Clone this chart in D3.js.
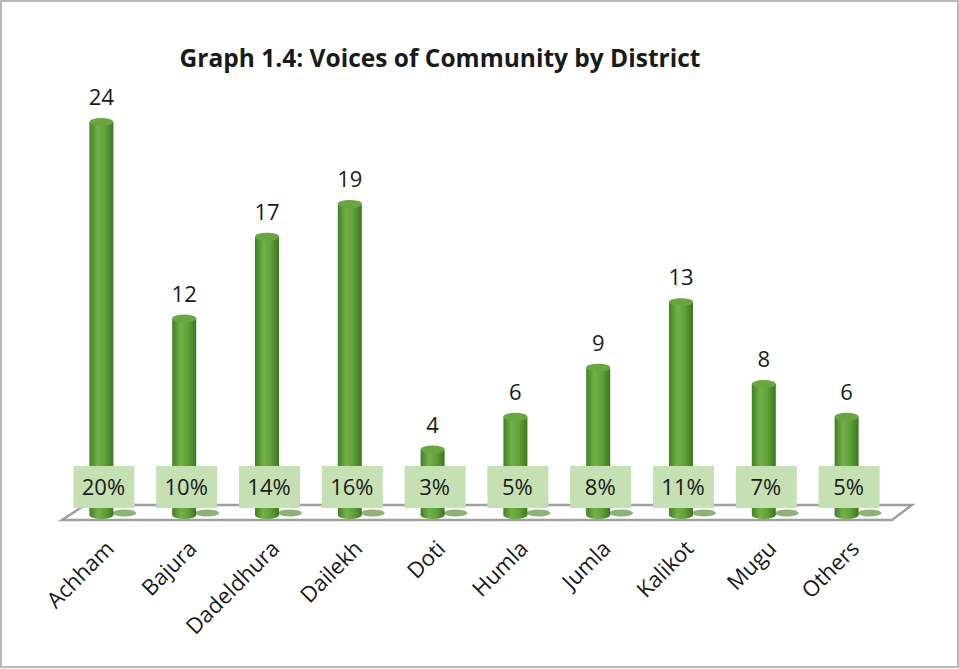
<!DOCTYPE html>
<html>
<head>
<meta charset="utf-8">
<script src="https://cdn.jsdelivr.net/npm/d3@7"></script>
<style>
  body { margin: 0; background: #fff; }
  svg text { font-family: "Open Sans", Lato, sans-serif; fill: #1a1a1a; }
</style>
</head>
<body>
<div id="chart"></div>
<script>
// chart data
const districts = ["Achham", "Bajura", "Dadeldhura", "Dailekh", "Doti", "Humla", "Jumla", "Kalikot", "Mugu", "Others"];
const voices = [24, 12, 17, 19, 4, 6, 9, 13, 8, 6];
const shares = ["20%", "10%", "14%", "16%", "3%", "5%", "8%", "11%", "7%", "5%"];

const width = 959, height = 669;
const base = 515;

const svg = d3.select("#chart").append("svg")
  .attr("width", width)
  .attr("height", height);

// outer border
svg.append("rect")
  .attr("x", 1).attr("y", 1)
  .attr("width", width - 2).attr("height", height - 3)
  .attr("fill", "#fff")
  .attr("stroke", "#a3a3a3")
  .attr("stroke-width", 1.5);

const x = d3.scaleBand().domain(districts).range([60, 888]).padding(0);
const y = d3.scaleLinear().domain([0, 24]).range([base, 122]);
const bw = 24;

// cylinder gradient
const defs = svg.append("defs");
const grad = defs.append("linearGradient").attr("id", "cyl").attr("x1", "0").attr("x2", "1");
grad.append("stop").attr("offset", "0").attr("stop-color", "#447f25");
grad.append("stop").attr("offset", "0.35").attr("stop-color", "#74b04a");
grad.append("stop").attr("offset", "0.65").attr("stop-color", "#61a039");
grad.append("stop").attr("offset", "1").attr("stop-color", "#3e7621");

// title
svg.append("text")
  .attr("x", 440).attr("y", 67)
  .attr("text-anchor", "middle")
  .attr("font-size", 24.5)
  .attr("font-weight", "bold")
  .text("Graph 1.4: Voices of Community by District");

// floor
const [r0, r1] = x.range();
const floor = [[r0 + 2, 520], [r1 + 4, 520], [r1 + 24, 505], [r0 + 25, 505]];
svg.append("polygon")
  .attr("points", floor.map(p => p.join(",")).join(" "))
  .attr("fill", "#fff")
  .attr("stroke", "#a0a0a0")
  .attr("stroke-width", 2.5);

const cx = d => x(d) + x.bandwidth() / 2;

const g = svg.append("g").selectAll("g")
  .data(districts)
  .join("g");

// shadows
g.append("ellipse")
  .attr("cx", d => cx(d) + 23)
  .attr("cy", 513)
  .attr("rx", 12).attr("ry", 3.5)
  .attr("fill", "#8db277");

// cylinder body
g.append("rect")
  .attr("x", d => cx(d) - bw / 2)
  .attr("y", (d, i) => y(voices[i]))
  .attr("width", bw)
  .attr("height", (d, i) => base - y(voices[i]))
  .attr("fill", "url(#cyl)");

g.append("ellipse")
  .attr("cx", d => cx(d))
  .attr("cy", base)
  .attr("rx", bw / 2).attr("ry", 4)
  .attr("fill", "url(#cyl)");

// cylinder top
g.append("ellipse")
  .attr("cx", d => cx(d))
  .attr("cy", (d, i) => y(voices[i]))
  .attr("rx", bw / 2).attr("ry", 4)
  .attr("fill", "#6aa640");

// value labels
g.append("text")
  .attr("x", d => cx(d))
  .attr("y", (d, i) => y(voices[i]) - 17)
  .attr("text-anchor", "middle")
  .attr("font-size", 22)
  .text((d, i) => voices[i]);

// percentage boxes
const bx = g.append("g")
  .attr("transform", d => `translate(${cx(d) + 2},487)`);
bx.append("rect")
  .attr("x", -30).attr("y", -21)
  .attr("width", 61).attr("height", 42)
  .attr("fill", "#c5e0b3");
bx.append("text")
  .attr("text-anchor", "middle")
  .attr("dy", "0.36em")
  .attr("font-size", 22)
  .text((d, i) => shares[i]);

// category labels
svg.append("g").selectAll("text")
  .data(districts)
  .join("text")
  .attr("transform", d => `translate(${cx(d) + 14},550) rotate(-45)`)
  .attr("text-anchor", "end")
  .attr("font-size", 22)
  .text(d => d);
</script>
</body>
</html>
